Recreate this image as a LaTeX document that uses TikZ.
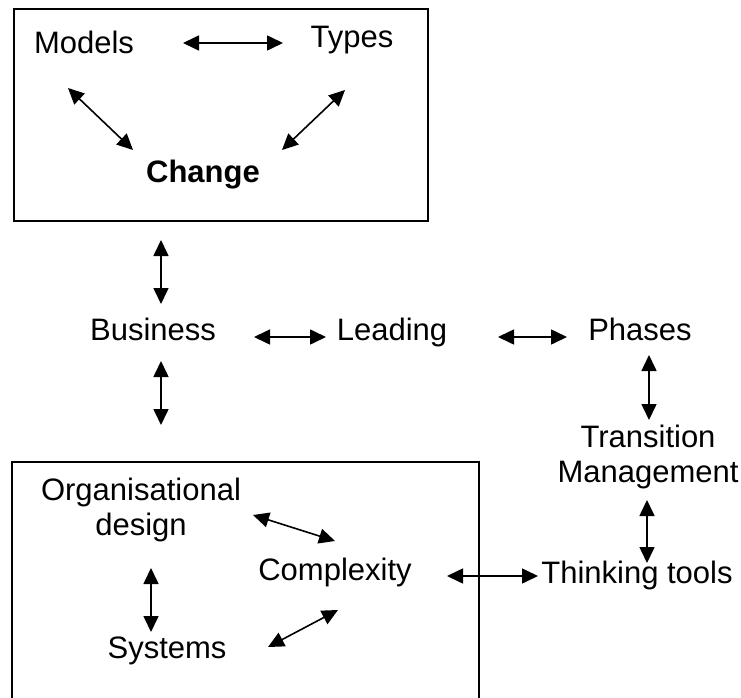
\documentclass[tikz,border=0pt]{standalone}
\usepackage{fontspec}
\setmainfont{Liberation Sans}
\usetikzlibrary{arrows.meta}

\tikzset{
	word/.style = {anchor=base, inner sep=0pt, font=\fontsize{31}{35}\selectfont},
	twoway/.style = {{Triangle[length=16pt,width=15pt]}-{Triangle[length=16pt,width=15pt]}, line width=1.6pt}
}

\begin{document}
\begin{tikzpicture}[x=1pt,y=-1pt]

		\useasboundingbox (0,0) rectangle (741,698);

		% frames
		\draw [line width=2pt] (14,9.5) rectangle (428,221);
		\draw [line width=1.6pt] (12,462) rectangle (479,710);

		% words (two-line ones sit on the baseline of their last line)
		\node [word] (models) at (84,54) {Models};
		\node [word] (types) at (352,48) {Types};
		\node [word, font=\fontsize{31}{35}\selectfont\bfseries] (change) at (203,182) {Change};
		\node [word] (business) at (153,340) {Business};
		\node [word] (leading) at (392,340) {Leading};
		\node [word] (phases) at (640,340) {Phases};
		\node [word, align=center] (transition) at (648,482) {Transition\\Management};
		\node [word, align=center] (orgdesign) at (141,535) {Organisational\\design};
		\node [word] (complexity) at (335,580) {Complexity};
		\node [word] (thinking) at (637,583) {Thinking tools};
		\node [word] (systems) at (167,658) {Systems};

		% arrow ends
		\coordinate (MT1) at (183,43);   \coordinate (MT2) at (283,43);
		\coordinate (MC1) at (68,88);    \coordinate (MC2) at (133,150);
		\coordinate (TC1) at (345,90);   \coordinate (TC2) at (282,150);
		\coordinate (CB1) at (161,240);  \coordinate (CB2) at (161,304);
		\coordinate (BD1) at (161,361);  \coordinate (BD2) at (161,425);
		\coordinate (BL1) at (254,337);  \coordinate (BL2) at (326,337);
		\coordinate (LP1) at (498,337);  \coordinate (LP2) at (567,337);
		\coordinate (PT1) at (649,355);  \coordinate (PT2) at (649,420);
		\coordinate (TT1) at (647,500);  \coordinate (TT2) at (647,563);
		\coordinate (CT1) at (447,576);  \coordinate (CT2) at (538,576);
		\coordinate (OC1) at (253,515);  \coordinate (OC2) at (335,541);
		\coordinate (OS1) at (151,568);  \coordinate (OS2) at (151,632);
		\coordinate (SC1) at (268,647);  \coordinate (SC2) at (338,610);

		\foreach \a in {MT,MC,TC,CB,BD,BL,LP,PT,TT,CT,OC,OS,SC}
			\draw [twoway] (\a1) -- (\a2);

\end{tikzpicture}
\end{document}
